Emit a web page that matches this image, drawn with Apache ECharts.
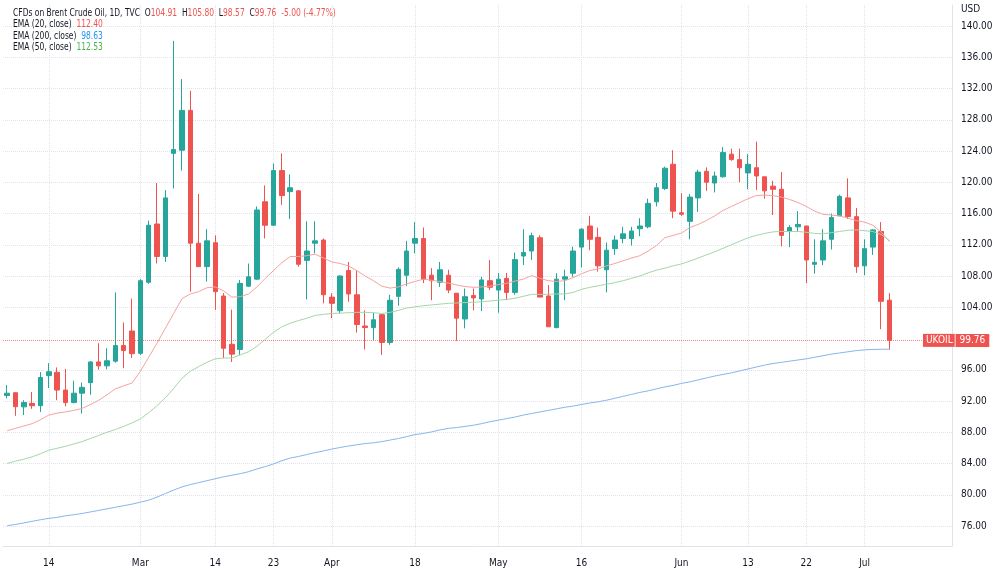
<!DOCTYPE html>
<html>
<head>
<meta charset="utf-8">
<title>CFDs on Brent Crude Oil, 1D</title>
<script src="https://cdn.jsdelivr.net/npm/echarts@6/dist/echarts.min.js"></script>
<style>
  html, body { margin: 0; padding: 0; background: #fff; }
  #chart { width: 1000px; height: 575px; }
</style>
</head>
<body>
<div id="chart"></div>
<script>
// trading days, Good Friday (Apr 15) has no bar
const dates = [
  '2022-02-07', '2022-02-08', '2022-02-09', '2022-02-10', '2022-02-11', '2022-02-14', '2022-02-15', '2022-02-16',
  '2022-02-17', '2022-02-18', '2022-02-21', '2022-02-22', '2022-02-23', '2022-02-24', '2022-02-25', '2022-02-28',
  '2022-03-01', '2022-03-02', '2022-03-03', '2022-03-04', '2022-03-07', '2022-03-08', '2022-03-09', '2022-03-10',
  '2022-03-11', '2022-03-14', '2022-03-15', '2022-03-16', '2022-03-17', '2022-03-18', '2022-03-21', '2022-03-22',
  '2022-03-23', '2022-03-24', '2022-03-25', '2022-03-28', '2022-03-29', '2022-03-30', '2022-03-31', '2022-04-01',
  '2022-04-04', '2022-04-05', '2022-04-06', '2022-04-07', '2022-04-08', '2022-04-11', '2022-04-12', '2022-04-13',
  '2022-04-14', '2022-04-18', '2022-04-19', '2022-04-20', '2022-04-21', '2022-04-22', '2022-04-25', '2022-04-26',
  '2022-04-27', '2022-04-28', '2022-04-29', '2022-05-02', '2022-05-03', '2022-05-04', '2022-05-05', '2022-05-06',
  '2022-05-09', '2022-05-10', '2022-05-11', '2022-05-12', '2022-05-13', '2022-05-16', '2022-05-17', '2022-05-18',
  '2022-05-19', '2022-05-20', '2022-05-23', '2022-05-24', '2022-05-25', '2022-05-26', '2022-05-27', '2022-05-30',
  '2022-05-31', '2022-06-01', '2022-06-02', '2022-06-03', '2022-06-06', '2022-06-07', '2022-06-08', '2022-06-09',
  '2022-06-10', '2022-06-13', '2022-06-14', '2022-06-15', '2022-06-16', '2022-06-17', '2022-06-20', '2022-06-21',
  '2022-06-22', '2022-06-23', '2022-06-24', '2022-06-27', '2022-06-28', '2022-06-29', '2022-06-30', '2022-07-01',
  '2022-07-04', '2022-07-05', '2022-07-06'
]
// empty slots on the right of the last bar
const spareDates = ['2022-07-07', '2022-07-08', '2022-07-11', '2022-07-12', '2022-07-13', '2022-07-14', '2022-07-15']

const opens = [
  92.7, 93.06, 91.25, 91.7, 91.4, 95.25, 95.67, 93.4, 91.8, 93.0,
  94.35, 97.0, 96.5, 97.1, 99.1, 100.96, 98.1, 107.2, 114.66, 110.5,
  123.7, 124.1, 129.2, 112.2, 109.2, 112.26, 105.44, 99.26, 98.6, 106.7,
  107.6, 117.5, 114.5, 121.5, 118.8, 118.9, 110.0, 112.2, 112.6, 105.3,
  103.56, 108.7, 105.6, 101.6, 101.4, 103.05, 99.5, 105.4, 108.1, 112.2,
  112.8, 108.1, 107.2, 108.1, 105.8, 102.5, 105.5, 105.06, 107.4, 106.2,
  107.7, 105.9, 110.56, 111.2, 112.9, 105.44, 101.4, 107.6, 108.35, 111.7,
  114.4, 112.95, 108.8, 111.5, 112.8, 112.8, 114.05, 114.3, 117.5, 119.2,
  122.3, 116.1, 115.0, 118.0, 121.4, 119.9, 120.7, 123.6, 122.9, 121.2,
  121.86, 120.7, 119.5, 119.1, 113.7, 114.3, 114.4, 109.5, 110.05, 112.7,
  115.7, 118.0, 115.6, 109.3, 111.7, 113.7, 104.91
]
const highs = [
  94.05, 93.1, 92.1, 93.15, 95.7, 96.85, 96.3, 96.1, 94.6, 94.35,
  97.1, 99.4, 98.75, 105.9, 102.05, 105.1, 107.6, 115.1, 119.9, 119.0,
  138.1, 133.2, 131.7, 118.5, 114.0, 113.2, 105.8, 103.7, 107.5, 109.6,
  116.9, 119.6, 122.4, 123.7, 121.0, 119.0, 115.0, 115.0, 112.8, 105.8,
  108.1, 109.8, 108.7, 103.6, 103.3, 103.1, 105.6, 109.1, 112.5, 114.9,
  114.2, 109.0, 109.8, 108.8, 105.8, 106.4, 106.4, 107.9, 110.05, 108.4,
  108.4, 111.0, 114.0, 113.55, 113.2, 106.85, 108.35, 108.8, 111.75, 114.1,
  115.7, 114.2, 112.3, 113.2, 114.3, 114.3, 115.4, 117.9, 119.9, 122.0,
  124.1, 118.6, 118.5, 121.6, 121.9, 121.35, 124.5, 124.3, 124.3, 123.6,
  125.2, 120.7, 120.2, 121.3, 114.5, 116.3, 114.4, 112.7, 114.0, 116.0,
  118.4, 120.5, 116.7, 112.7, 114.0, 114.9, 105.8
]
const lows = [
  92.35, 90.1, 90.2, 91.0, 90.6, 93.65, 92.1, 91.3, 91.7, 90.4,
  92.8, 96.0, 96.05, 96.9, 96.2, 97.5, 97.9, 107.0, 109.6, 109.8,
  119.2, 121.5, 106.0, 109.2, 107.3, 103.65, 97.5, 97.0, 97.9, 106.6,
  107.5, 112.8, 114.4, 117.1, 115.3, 109.2, 105.0, 110.9, 104.5, 102.6,
  103.2, 104.7, 100.75, 98.6, 99.8, 97.9, 99.2, 104.2, 106.7, 110.9,
  107.1, 104.9, 106.6, 105.8, 99.7, 101.3, 103.6, 103.5, 106.2, 103.3,
  104.9, 105.6, 109.4, 110.05, 105.3, 101.5, 101.3, 104.9, 107.9, 109.1,
  111.3, 108.55, 105.9, 110.7, 112.2, 111.9, 113.1, 114.1, 116.9, 119.0,
  115.4, 115.7, 112.7, 116.2, 118.9, 118.7, 120.6, 122.75, 120.0, 119.1,
  119.0, 117.9, 115.8, 111.8, 111.7, 113.7, 107.1, 108.3, 109.4, 111.4,
  115.7, 115.3, 108.4, 108.1, 110.7, 101.2, 98.57
]
const closes = [
  93.0, 91.27, 91.8, 91.4, 95.0, 95.75, 93.4, 91.8, 93.0, 93.75,
  97.0, 96.5, 97.15, 99.1, 98.45, 98.06, 107.4, 114.5, 110.5, 118.0,
  124.2, 129.2, 112.2, 109.2, 112.5, 106.0, 98.75, 98.0, 107.06, 107.9,
  116.45, 114.5, 121.5, 118.3, 119.3, 109.5, 111.2, 112.5, 105.6, 104.5,
  108.0, 105.7, 101.8, 101.4, 102.4, 99.5, 104.9, 108.85, 111.2, 112.8,
  107.6, 107.4, 108.8, 106.2, 102.6, 105.35, 105.2, 107.5, 106.56, 107.6,
  105.9, 110.1, 111.0, 113.16, 105.3, 101.5, 107.6, 107.9, 111.2, 114.0,
  112.7, 109.3, 111.3, 112.6, 113.4, 113.76, 114.4, 117.3, 119.3, 121.8,
  116.3, 115.9, 118.1, 121.3, 120.0, 120.8, 123.8, 122.9, 121.86, 122.3,
  120.8, 118.9, 119.1, 113.2, 114.2, 114.6, 110.05, 109.75, 112.5, 115.5,
  118.2, 115.6, 109.2, 111.5, 113.9, 104.76, 99.76
]

// EMA lines
const ema20 = [
  88.2, 88.5, 88.8, 89.1, 89.6, 90.2, 90.45, 90.6, 90.8, 91.05,
  91.55, 92.1, 92.8, 93.55, 93.95, 94.3, 95.8, 97.6, 99.4, 101.3,
  103.2, 105.1, 105.7, 106.0, 106.5, 106.6, 106.1, 105.3, 105.35, 105.7,
  106.6, 107.7, 108.7, 109.7, 110.5, 110.5, 110.6, 110.8, 110.3, 109.8,
  109.6, 109.3, 108.7, 108.0, 107.4, 106.7, 106.45, 106.6, 107.0, 107.3,
  107.6, 107.45, 107.3, 107.1, 106.85, 106.65, 106.55, 106.6, 106.7, 106.9,
  107.07, 107.35, 107.6, 108.05, 107.7, 107.4, 107.3, 107.4, 107.8, 108.3,
  108.7, 108.9, 109.3, 109.6, 109.95, 110.3, 110.6, 111.2, 111.9, 112.9,
  113.2, 113.5, 114.2, 114.6, 115.1, 115.7, 116.4, 116.9, 117.4, 117.9,
  118.3, 118.35, 118.3, 118.1, 117.8, 117.4, 116.9, 116.3, 115.9, 115.8,
  115.7, 115.4, 115.1, 114.9, 114.5, 113.6, 112.4
]
const ema50 = [
  84.0, 84.3, 84.55, 84.85, 85.25, 85.7, 85.95, 86.2, 86.5, 86.8,
  87.2, 87.6, 88.0, 88.35, 88.75, 89.2, 89.7, 90.5, 91.4, 92.4,
  93.6, 94.9, 95.8, 96.4, 96.95, 97.4, 97.5, 97.5, 97.9, 98.3,
  99.0, 99.9, 100.8, 101.5, 101.95, 102.3, 102.6, 102.95, 103.1, 103.2,
  103.25, 103.3, 103.35, 103.35, 103.3, 103.2, 103.35, 103.6, 103.9, 104.05,
  104.2, 104.3, 104.4, 104.5, 104.55, 104.6, 104.65, 104.7, 104.8, 104.9,
  105.0, 105.15, 105.4, 105.65, 105.65, 105.65, 105.7, 105.7, 105.9, 106.3,
  106.55, 106.75, 106.95, 107.15, 107.4, 107.7, 108.0, 108.4, 108.75, 109.0,
  109.3, 109.55, 109.9, 110.3, 110.7, 111.1, 111.55, 112.0, 112.45, 112.9,
  113.2, 113.45, 113.65, 113.7, 113.7, 113.7, 113.6, 113.45, 113.4, 113.55,
  113.7, 113.85, 113.9, 113.8, 113.7, 113.3, 112.53
]
const ema200 = [
  76.04, 76.2, 76.4, 76.6, 76.8, 76.98, 77.1, 77.3, 77.45, 77.6,
  77.8, 78.0, 78.2, 78.4, 78.6, 78.8, 79.05, 79.3, 79.7, 80.15,
  80.6, 81.0, 81.3, 81.55, 81.8, 82.05, 82.3, 82.5, 82.7, 82.95,
  83.3, 83.6, 83.95, 84.35, 84.7, 84.9, 85.15, 85.4, 85.6, 85.85,
  86.05, 86.24, 86.4, 86.55, 86.65, 86.8, 87.0, 87.2, 87.45, 87.7,
  87.85, 88.05, 88.3, 88.5, 88.6, 88.75, 88.9, 89.1, 89.35, 89.55,
  89.75, 89.95, 90.2, 90.4, 90.6, 90.8, 91.0, 91.2, 91.35, 91.55,
  91.75, 91.9, 92.1, 92.35, 92.6, 92.85, 93.1, 93.3, 93.55, 93.8,
  94.0, 94.25, 94.45, 94.7, 94.95, 95.2, 95.4, 95.6, 95.85, 96.1,
  96.35, 96.6, 96.8, 96.95, 97.1, 97.25, 97.4, 97.6, 97.8, 98.0,
  98.15, 98.3, 98.45, 98.55, 98.6, 98.62, 98.63
]

// time scale labels and price scale labels (100.00 sits under the last price tag)
const tickDates = ['2022-02-14', '2022-03-01', '2022-03-14', '2022-03-23', '2022-04-01', '2022-04-18',
  '2022-05-02', '2022-05-16', '2022-06-01', '2022-06-13', '2022-06-22', '2022-07-01']
const tickLabels = ['14', 'Mar', '14', '23', 'Apr', '18', 'May', '16', 'Jun', '13', '22', 'Jul']
const priceTicks = [76, 80, 84, 88, 92, 96, 104, 108, 112, 116, 120, 124, 128, 132, 136, 140]

const upColor = '#26a69a'
const downColor = '#ef5350'
const gridColor = '#e0e3eb'
const textColor = '#131722'
const font = "'Liberation Sans Narrow', 'DejaVu Sans Condensed', 'Liberation Sans', sans-serif"

let candles = dates.map((d, i) => [opens[i], closes[i], lows[i], highs[i]])
let last = closes.length - 1
let change = closes[last] - closes[last - 1]
let pct = change / closes[last - 1] * 100

let header = [
  '{t|CFDs on Brent Crude Oil, 1D, TVC}  {t|O}{r|' + opens[last].toFixed(2) + '}  {t|H}{r|' + highs[last].toFixed(2) +
    '}  {t|L}{r|' + lows[last].toFixed(2) + '}  {t|C}{r|' + closes[last].toFixed(2) + '}  {r|' +
    change.toFixed(2) + ' (' + pct.toFixed(2) + '%)}',
  '{t|EMA (20, close)}  {r|' + ema20[last].toFixed(2) + '}',
  '{t|EMA (200, close)}  {b|' + ema200[last].toFixed(2) + '}',
  '{t|EMA (50, close)}  {g|' + ema50[last].toFixed(2) + '}'
].join('\n')

let richText = color => ({ fill: color, fontSize: 10.5, lineHeight: 11.6, fontFamily: font })

let chart = echarts.init(document.getElementById('chart'))
chart.setOption({
  animation: false,
  backgroundColor: '#ffffff',
  textStyle: { fontFamily: font },
  graphic: [
    {
      // legend block, squeezed a little like the screenshot
      type: 'text',
      x: 13,
      y: 7,
      scaleX: 0.8,
      z: 10,
      style: {
        text: header,
        fill: textColor,
        font: '10.5px ' + font,
        lineHeight: 11.6,
        rich: {
          t: richText(textColor),
          r: richText(downColor),
          b: richText('#2196f3'),
          g: richText('#4caf50')
        }
      }
    },
    {
      type: 'text',
      x: 961,
      y: 4,
      style: { text: 'USD', fill: textColor, font: '10px ' + font }
    }
  ],
  grid: { left: 3, right: 48, top: 5, bottom: 29 },
  xAxis: {
    type: 'category',
    data: dates.concat(spareDates),
    boundaryGap: true,
    axisLine: { lineStyle: { color: gridColor } },
    axisTick: { show: false },
    splitLine: { show: false },
    axisLabel: {
      interval: (i, v) => tickDates.indexOf(v) >= 0,
      formatter: v => tickLabels[tickDates.indexOf(v)],
      color: textColor,
      fontSize: 10,
      margin: 12
    }
  },
  yAxis: {
    type: 'value',
    position: 'right',
    min: 73.44,
    max: 142.69,
    axisLine: { show: true, lineStyle: { color: gridColor } },
    axisTick: { show: false, customValues: priceTicks },
    axisLabel: {
      customValues: priceTicks,
      formatter: v => v.toFixed(2),
      color: textColor,
      fontSize: 10,
      margin: 9
    },
    splitLine: { lineStyle: { color: gridColor, type: 'dotted', width: 1 } }
  },
  series: [
    {
      name: 'UKOIL',
      type: 'candlestick',
      data: candles,
      barWidth: 5,
      z: 2,
      itemStyle: {
        color: upColor,
        color0: downColor,
        borderColor: upColor,
        borderColor0: downColor,
        borderWidth: 1
      },
      markLine: {
        silent: true,
        symbol: ['none', 'none'],
        lineStyle: { color: 'rgba(239,83,80,0.7)', type: 'dotted', width: 1 },
        label: {
          show: true,
          position: 'end',
          distance: 0,
          offset: [-29, 0],
          formatter: '{a|UKOIL}{s| }{b|' + closes[last].toFixed(2) + '}',
          rich: {
            a: { backgroundColor: downColor, color: '#fff', fontSize: 10, padding: [2, 2, 1, 3], fontFamily: font },
            s: { fontSize: 3 },
            b: { backgroundColor: downColor, color: '#fff', fontSize: 10, padding: [2, 4, 1, 4], fontFamily: font }
          }
        },
        data: [{ yAxis: closes[last] }]
      }
    },
    {
      name: 'EMA (20, close)',
      type: 'line',
      data: ema20,
      showSymbol: false,
      z: 3,
      lineStyle: { color: '#f5a3a1', width: 1 }
    },
    {
      name: 'EMA (50, close)',
      type: 'line',
      data: ema50,
      showSymbol: false,
      z: 3,
      lineStyle: { color: '#a6d6a8', width: 1 }
    },
    {
      name: 'EMA (200, close)',
      type: 'line',
      data: ema200,
      showSymbol: false,
      z: 3,
      lineStyle: { color: '#86b6ec', width: 1 },
      // vertical grid at the time labels
      markLine: {
        silent: true,
        z: 1,
        symbol: ['none', 'none'],
        label: { show: false },
        lineStyle: { color: gridColor, type: 'dotted', width: 1 },
        data: tickDates.map(d => ({ xAxis: d }))
      }
    }
  ]
})
</script>
</body>
</html>
